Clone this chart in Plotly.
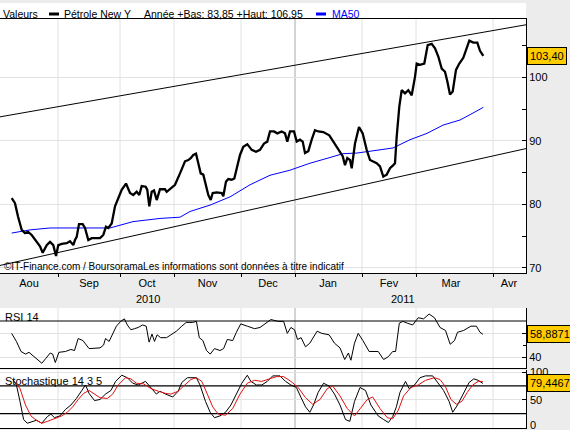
import plotly.graph_objects as go

W, H = 570, 430

# ---------------- data (t = session position on the time axis) ----------------
T_PRICE = [11.7, 15, 18, 21.7, 25, 28, 31.7, 36.7, 40, 42.7, 46.7, 50, 53.3, 56, 58.3, 61.7, 66.7, 70,
           73.3, 75, 76.7, 79, 82.7, 85, 88.3, 91.7, 95, 100, 103.3, 106, 108.3, 111.7, 115, 118.3,
           121.7, 126, 130, 133.3, 136.7, 139.3, 141.7, 145.7, 147.3, 149.3, 151.7, 154, 156.7, 160,
           165, 166.7, 171.7, 175, 180, 185, 188.3, 190.7, 193.3, 196, 198.3, 200.7, 203.3, 206, 208.3,
           210.7, 212.7, 216.7, 221.7, 223.3, 226, 228.3, 231.7, 234.3, 236.7, 240, 243.3, 247.3, 251.7,
           256, 260, 264, 267.3, 270, 274, 277.3, 281.7, 285, 287.3, 290, 294, 296.7, 300, 302.7, 305,
           308.3, 311.7, 315, 318.3, 323.3, 329.3, 333.3, 336.7, 340, 342.7, 345, 347.3, 350, 351.7,
           355, 359, 362.7, 366.7, 370, 373.3, 376.7, 380, 383.3, 386.7, 390, 393.3, 395, 396.7, 399.3,
           401.7, 405, 408.3, 411.7, 415, 416.7, 420, 424.3, 427.7, 431.7, 435, 438.3, 441.7, 445,
           447.3, 450, 452.7, 456, 459.3, 463.3, 466, 469.3, 473.3, 477.3, 480, 483.3]
PRICE = [81.0, 80.2, 78.1, 76.0, 75.5, 75.7, 75.2, 74.1, 73.4, 72.4, 73.6, 74.1, 73.6, 71.9, 73.6, 73.8,
         73.9, 74.2, 73.6, 74.4, 74.9, 76.9, 76.9, 76.3, 74.4, 74.7, 74.7, 74.7, 75.2, 76.5, 76.3, 77.0,
         79.7, 81.0, 82.3, 83.3, 81.8, 81.5, 82.0, 81.5, 82.9, 82.8, 82.3, 79.7, 82.0, 82.2, 80.7, 82.4,
         82.4, 82.0, 82.6, 83.1, 84.9, 86.8, 87.0, 87.3, 87.8, 88.0, 86.5, 84.9, 84.7, 82.8, 81.5, 80.7,
         81.8, 81.9, 81.8, 81.3, 83.6, 84.0, 83.9, 84.1, 85.7, 87.8, 89.1, 89.5, 88.6, 88.3, 88.6, 89.6,
         89.9, 91.5, 91.5, 91.2, 91.5, 91.2, 89.9, 91.5, 91.5, 89.9, 90.2, 89.9, 88.1, 88.4, 90.2, 91.7,
         91.5, 91.4, 90.9, 89.9, 89.1, 88.1, 87.6, 86.2, 87.3, 87.0, 85.7, 89.6, 92.2, 91.2, 88.6, 87.0,
         86.8, 86.5, 86.0, 84.4, 84.7, 85.7, 86.2, 86.5, 90.7, 95.4, 98.0, 97.5, 98.0, 97.2, 100.1,
         102.2, 102.0, 102.2, 105.1, 105.3, 104.6, 103.3, 101.4, 100.9, 99.4, 97.3, 97.8, 101.2, 102.2,
         103.1, 104.3, 105.8, 105.5, 105.5, 104.2, 103.40]

T_MA = [11.7, 30, 50, 83, 110, 133, 160, 180, 190, 210, 230, 250, 270, 290, 310, 330, 343, 357, 370,
        393, 410, 427, 443, 460, 473, 483.3]
MA50 = [75.5, 76.0, 76.3, 76.3, 76.3, 77.3, 77.8, 78.0, 78.9, 79.9, 81.2, 83.1, 84.6, 85.4, 86.5, 87.4,
        88.0, 88.1, 88.4, 88.9, 90.2, 91.2, 92.5, 93.3, 94.4, 95.3]

T_CHANNEL = [0, 526]
CHANNEL_HIGH = [93.8, 108.3]
CHANNEL_LOW = [70.4, 88.8]

T_RSI = [11.6, 16.4, 21, 25.5, 29, 34.5, 41.8, 45.5, 50.2, 52.7, 55.3, 58.9, 65.5, 70.9, 74.5, 78.2,
         82.9, 89.1, 94.5, 100, 103.6, 105.5, 109.1, 112.7, 116.4, 120.7, 124.4, 127.3, 130.9, 134.5,
         138.2, 142.5, 146.2, 149.1, 152, 154.5, 157.1, 160.7, 166.5, 170.9, 176.4, 181.8, 186.2, 189.1,
         192.7, 196.4, 199.3, 202.9, 206.5, 210.2, 214.5, 220, 223.6, 227.3, 232.7, 236.4, 240.7, 247.3,
         254.5, 260, 265.5, 270.9, 278.2, 283.6, 287.3, 290.9, 294.5, 297.5, 301.1, 305.5, 309.8, 317.1,
         321.8, 329.1, 334.5, 340, 344.7, 348.4, 350.9, 354.5, 358.2, 362.9, 369.1, 378.2, 383.6, 388.4,
         392.7, 395.6, 399.3, 402.9, 407.3, 412.7, 418.2, 423.6, 429.1, 434.5, 440, 445.5, 450.2, 454.5,
         457.5, 463.6, 470.9, 476.4, 480, 482.9]
RSI = [59.7, 53.0, 44.6, 42.4, 43.9, 40.3, 34.8, 38.5, 43.3, 42.4, 35.4, 43.9, 44.6, 46.3, 45.4, 55.4,
       53.7, 47.0, 47.6, 47.6, 50.0, 55.4, 53.0, 59.1, 65.7, 69.7, 71.8, 66.7, 62.7, 63.6, 64.6, 66.7,
       65.7, 52.4, 59.1, 53.0, 58.5, 56.1, 56.1, 58.5, 61.5, 65.7, 68.8, 68.8, 68.8, 69.7, 56.1, 53.7,
       45.4, 42.4, 47.0, 45.4, 47.0, 54.6, 53.7, 60.6, 67.6, 65.7, 63.6, 64.6, 67.6, 71.2, 69.7, 69.7,
       59.7, 64.6, 62.7, 54.6, 56.1, 48.5, 51.5, 61.5, 59.7, 58.5, 51.5, 47.6, 37.9, 43.3, 37.3, 51.5,
       59.7, 53.7, 44.6, 44.6, 37.9, 40.3, 44.6, 44.6, 68.2, 69.7, 68.2, 66.7, 72.7, 71.8, 75.8, 72.7,
       64.6, 62.1, 50.6, 53.7, 60.6, 62.1, 65.7, 65.7, 60.6, 58.8871]

T_STO_K = [12.7, 16.4, 20, 23.6, 27.3, 32.7, 36.4, 41.8, 47.3, 50.9, 54.5, 60, 65.5, 70.9, 76.4, 81.8,
           85.5, 89.1, 94.5, 100, 105.5, 110.9, 115.6, 121.8, 127.3, 132.7, 138.2, 145.5, 150.9, 156.4,
           160, 165.5, 172.7, 178.2, 181.8, 187.3, 196.4, 200, 205.5, 210.2, 214.5, 220, 225.5, 230.9,
           236.4, 241.8, 247.3, 250.9, 256.4, 261.8, 267.3, 272.7, 280, 285.5, 290.9, 296.4, 301.1,
           305.5, 309.8, 313.5, 318.2, 323.6, 329.1, 334.5, 340, 345.5, 349.8, 354.5, 360, 365.5, 370.9,
           378.2, 383.6, 388.4, 392.7, 396.4, 400, 405.5, 409.1, 414.5, 420, 425.5, 432.7, 438.2, 443.6,
           449.1, 452.7, 457.5, 463.6, 469.1, 473.8, 478.2, 482.9]
STO_K = [86.5, 76.6, 47.0, 14.4, 7.7, 11.0, 13.0, 7.7, 19.6, 24.1, 17.7, 20.9, 32.6, 40.5, 52.3, 66.7,
         76.6, 61.4, 48.5, 50.5, 60.2, 66.7, 83.1, 94.2, 89.7, 79.8, 76.6, 83.1, 72.1, 60.2, 65.4, 60.2,
         55.0, 65.4, 81.1, 89.7, 89.7, 76.6, 47.0, 27.4, 17.7, 20.9, 27.4, 40.5, 60.2, 79.8, 94.2, 83.1,
         76.6, 76.6, 83.1, 93.0, 93.0, 83.1, 76.6, 72.1, 53.7, 37.3, 27.4, 40.5, 63.4, 79.8, 74.6, 60.2,
         40.5, 14.4, 11.0, 47.0, 72.1, 66.7, 40.5, 20.9, 14.4, 9.0, 19.6, 37.3, 63.4, 83.1, 70.1, 76.6,
         89.7, 93.0, 93.0, 79.8, 66.7, 47.0, 27.4, 40.5, 63.4, 81.1, 87.7, 85.0, 79.4467]

T_STO_D = [14.5, 20, 25.5, 30.9, 36.4, 41.8, 47.3, 54.5, 61.8, 67.3, 72.7, 78.2, 83.6, 89.1, 94.5, 100,
           107.3, 112.7, 118.2, 125.5, 130.9, 136.4, 143.6, 150.9, 158.2, 165.5, 170.9, 178.2, 183.6,
           190.9, 196.4, 201.8, 207.3, 212.7, 218.2, 225.5, 232.7, 240, 247.3, 254.5, 261.8, 269.1,
           276.4, 283.6, 290.9, 298.2, 305.5, 312.7, 320, 327.3, 332.7, 340, 347.3, 354.5, 360, 367.3,
           372.7, 380, 387.3, 392.7, 398.2, 403.6, 410.9, 418.2, 425.5, 434.5, 440, 445.5, 450.9, 456.4,
           461.8, 467.3, 472.7, 478.2, 482.9]
STO_D = [83.1, 70.1, 40.5, 20.9, 13.0, 7.7, 11.0, 15.7, 20.9, 27.4, 37.3, 50.5, 61.4, 66.7, 60.2, 53.7,
         52.3, 60.2, 76.6, 89.7, 87.7, 79.8, 78.6, 70.1, 65.4, 61.4, 60.2, 65.4, 74.6, 86.5, 89.7, 83.1,
         60.2, 37.3, 24.1, 22.2, 34.1, 60.2, 79.8, 85.0, 83.1, 87.7, 91.7, 91.7, 83.1, 72.1, 53.7, 41.8,
         50.5, 70.1, 74.6, 56.9, 34.1, 20.9, 34.1, 50.5, 55.0, 34.1, 17.7, 15.7, 30.6, 56.9, 72.1, 76.6,
         85.0, 89.7, 86.5, 73.3, 50.5, 41.8, 47.0, 63.4, 76.6, 83.1, 83.1]

RSI_LEVELS = [70]
STO_LEVELS = [75, 25]

MONTH_LABELS = ["Aou", "Sep", "Oct", "Nov", "Dec", "Jan", "Fev", "Mar", "Avr"]
MONTH_CENTERS = [29, 89, 147, 207.5, 268, 328, 389, 451, 509]
MONTH_BOUNDS = [58, 120, 174, 241, 362, 416, 493]
YEAR_BOUNDS = [295]
YEAR_LABELS = ["2010", "2011"]
YEAR_CENTERS = [148, 403]
T_RANGE = [0, 526]
STO_TICKS = [0, 50, 100]

LEGEND_TITLE = "Valeurs"
SERIES_NAME = "Pétrole New Y"
SERIES_INFO = "Année +Bas: 83,85 +Haut: 106,95"
MA_NAME = "MA50"
SOURCE = "©IT-Finance.com / BoursoramaLes informations sont données à titre indicatif"

# ---------------- layout helpers ----------------
FONT = "Liberation Sans, Arial, sans-serif"
BG = "#ECECEC"
GRID = "#E2E2E2"
YEARLINE = "#A8A8A8"
BOX = "#FFCC00"

def px(x):
    return x / W

def py(y):
    return 1 - y / H

XD = [0, px(526)]
DOM_MAIN = [py(273), py(19)]
DOM_RSI = [py(368), py(308)]
DOM_STO = [py(428), py(370)]

fig = go.Figure()

fig.add_trace(go.Scatter(x=T_CHANNEL, y=CHANNEL_HIGH, mode="lines", line=dict(color="black", width=1),
                         xaxis="x", yaxis="y", hoverinfo="skip"))
fig.add_trace(go.Scatter(x=T_CHANNEL, y=CHANNEL_LOW, mode="lines", line=dict(color="black", width=1),
                         xaxis="x", yaxis="y", hoverinfo="skip"))
fig.add_trace(go.Scatter(x=T_MA, y=MA50, mode="lines", line=dict(color="#0000FF", width=1),
                         xaxis="x", yaxis="y", name=MA_NAME))
fig.add_trace(go.Scatter(x=T_PRICE, y=PRICE, mode="lines", line=dict(color="black", width=2.3),
                         xaxis="x", yaxis="y", name=SERIES_NAME))

fig.add_trace(go.Scatter(x=T_RSI, y=RSI, mode="lines", line=dict(color="black", width=1),
                         xaxis="x2", yaxis="y2", name="RSI 14"))

fig.add_trace(go.Scatter(x=T_STO_K, y=STO_K, mode="lines", line=dict(color="black", width=1),
                         xaxis="x3", yaxis="y3", name="%K"))
fig.add_trace(go.Scatter(x=T_STO_D, y=STO_D, mode="lines", line=dict(color="#E01010", width=1),
                         xaxis="x3", yaxis="y3", name="%D"))

common_x = dict(range=T_RANGE, domain=XD, zeroline=False, showgrid=False, fixedrange=True)

layout = dict(
    width=W, height=H, autosize=False,
    margin=dict(l=0, r=0, t=0, b=0),
    paper_bgcolor=BG, plot_bgcolor="white",
    showlegend=False,
    font=dict(family=FONT, size=11, color="black"),
    xaxis=dict(**common_x, anchor="y",
               tickmode="array", tickvals=MONTH_CENTERS, ticktext=MONTH_LABELS, ticks="",
               tickfont=dict(size=11),
               minor=dict(tickmode="array", tickvals=MONTH_BOUNDS + YEAR_BOUNDS, ticks="outside",
                          ticklen=3, tickcolor="black", showgrid=False),
               showline=True, linecolor="black", linewidth=1, mirror=True),
    yaxis=dict(domain=DOM_MAIN, range=[69.21, 109.21], anchor="x", side="right",
               tickmode="array", tickvals=[70, 80, 90, 100], ticktext=["70", "80", "90", "100"],
               ticks="inside", ticklen=4, tickcolor="black", showgrid=True, gridcolor=GRID,
               minor=dict(tickmode="array", tickvals=[75, 85, 95, 105], ticks="inside", ticklen=4,
                          tickcolor="black", showgrid=False),
               showline=True, linecolor="black", linewidth=1, zeroline=False, fixedrange=True),
    xaxis2=dict(**common_x, anchor="y2", showticklabels=False, ticks="",
                showline=True, linecolor="black", linewidth=1),
    yaxis2=dict(domain=DOM_RSI, range=[30.83, 80.83], anchor="x2", side="right",
                tickmode="array", tickvals=[40, 60], ticktext=["40", ""],
                ticks="inside", ticklen=4, tickcolor="black", showgrid=True, gridcolor=GRID,
                minor=dict(tickmode="array", tickvals=[50], ticks="inside", ticklen=3,
                           tickcolor="black", showgrid=False),
                showline=True, linecolor="black", linewidth=1, zeroline=False, fixedrange=True),
    xaxis3=dict(**common_x, anchor="y3", showticklabels=False, ticks="",
                showline=True, linecolor="black", linewidth=1),
    yaxis3=dict(domain=DOM_STO, range=[-0.9, 103.6], anchor="x3", side="right",
                tickmode="array", tickvals=STO_TICKS, ticktext=["" for _ in STO_TICKS],
                ticks="inside", ticklen=4, tickcolor="black", showgrid=True, gridcolor=GRID,
                showline=True, linecolor="black", linewidth=1, zeroline=False, fixedrange=True),
)
fig.update_layout(**layout)

shapes = []
# white legend strip above main panel
shapes.append(dict(type="rect", xref="paper", yref="paper", x0=0, x1=px(526), y0=py(19), y1=py(3),
                   fillcolor="white", line=dict(width=0), layer="below"))
# vertical grid lines in each panel
for xa, ya in (("x", "y"), ("x2", "y2"), ("x3", "y3")):
    for b in MONTH_BOUNDS:
        shapes.append(dict(type="line", xref=xa, yref=ya + " domain", x0=b, x1=b, y0=0, y1=1,
                           line=dict(color=GRID, width=1), layer="below"))
    for b in YEAR_BOUNDS:
        shapes.append(dict(type="line", xref=xa, yref=ya + " domain", x0=b, x1=b, y0=0, y1=1,
                           line=dict(color=YEARLINE, width=1), layer="below"))
for lv in RSI_LEVELS:
    shapes.append(dict(type="line", xref="x2 domain", yref="y2", x0=0, x1=1, y0=lv, y1=lv,
                       line=dict(color="black", width=1.2), layer="below"))
for lv in STO_LEVELS:
    shapes.append(dict(type="line", xref="x3 domain", yref="y3", x0=0, x1=1, y0=lv, y1=lv,
                       line=dict(color="black", width=1.2), layer="below"))
# legend swatches
shapes.append(dict(type="rect", xref="paper", yref="paper", x0=px(49), x1=px(59), y0=py(15.5),
                   y1=py(12.5), fillcolor="black", line=dict(width=0)))
shapes.append(dict(type="rect", xref="paper", yref="paper", x0=px(316), x1=px(326), y0=py(15.5),
                   y1=py(12.5), fillcolor="#0000FF", line=dict(width=0)))
fig.update_layout(shapes=shapes)

ann = []
def text(x, y, s, size=11, color="black", xanchor="left"):
    ann.append(dict(xref="paper", yref="paper", x=px(x), y=py(y), text=s, showarrow=False,
                    xanchor=xanchor, yanchor="middle", font=dict(size=size, color=color, family=FONT)))

text(1, 14, LEGEND_TITLE, size=10.5)
text(62, 14, SERIES_NAME, size=10.5)
text(142, 14, SERIES_INFO, size=10.5)
text(330, 14, MA_NAME, size=10.5, color="#0000FF")
text(2, 266, SOURCE, size=10)
text(3, 317, "RSI 14", size=11)
text(3, 381, "Stochastique 14 3 5", size=11)
for lab, c in zip(YEAR_LABELS, YEAR_CENTERS):
    ann.append(dict(xref="x", yref="paper", x=c, y=py(299), text=lab, showarrow=False,
                    xanchor="center", yanchor="middle", font=dict(size=11, family=FONT)))
# stochastic axis labels (drawn as text so the edge labels are not dropped)
for v in STO_TICKS:
    ann.append(dict(xref="paper", yref="y3", x=px(528), y=v, text=str(v), showarrow=False,
                    xanchor="left", yanchor="middle", yshift=3 if v == 0 else 0,
                    font=dict(size=11, family=FONT)))

def fmt(v, d):
    return f"{v:.{d}f}".replace(".", ",")

for val, d, yr in ((PRICE[-1], 2, "y"), (RSI[-1], 4, "y2"), (STO_K[-1], 4, "y3")):
    ann.append(dict(xref="paper", yref=yr, x=px(527), y=val, text=fmt(val, d), showarrow=False,
                    xanchor="left", yanchor="middle", bgcolor=BOX, bordercolor="black",
                    borderwidth=1, borderpad=2, font=dict(size=11, family=FONT)))
fig.update_layout(annotations=ann)

fig.write_html("out.html")
